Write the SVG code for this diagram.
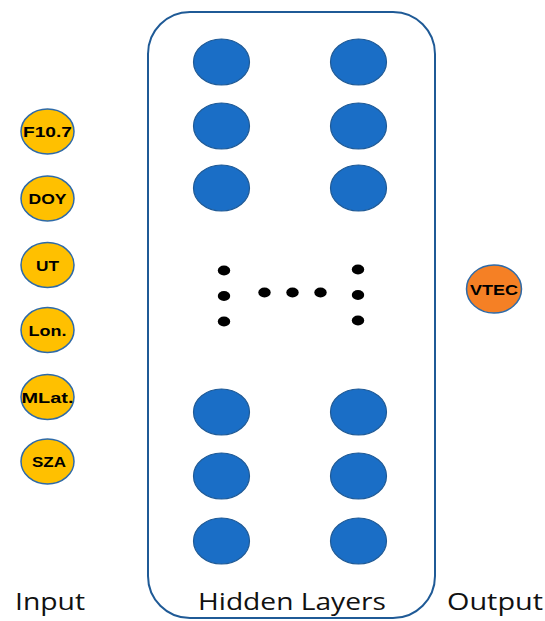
<svg xmlns="http://www.w3.org/2000/svg" width="545" height="621" viewBox="0 0 545 621">
<style>
.in{fill:#FFC000;stroke:#2E6AA8;stroke-width:1.5}
.out{fill:#F58025;stroke:#2E6AA8;stroke-width:1.5}
.hid{fill:#1A6EC6;stroke:#1F5A96;stroke-width:1.2}
.dot{fill:#000}
.nl{font-family:"Liberation Sans",Arial,sans-serif;font-weight:bold;font-size:15.5px;fill:#000;text-anchor:middle}
.lbl{font-family:"Open Sans","Liberation Sans",sans-serif;font-size:24px;fill:#111}
</style>
<rect x="148" y="12" width="287" height="606" rx="42" ry="42" fill="#fff" stroke="#1F5A96" stroke-width="2"/>
<g id="input-nodes">
<g id="n-f107"><ellipse class="in" cx="47.5" cy="131.5" rx="26.5" ry="22.5"/><text class="nl" x="47.5" y="137" textLength="49" lengthAdjust="spacingAndGlyphs">F10.7</text></g>
<g id="n-doy"><ellipse class="in" cx="47.5" cy="198.5" rx="26.5" ry="22.5"/><text class="nl" x="47.5" y="204" textLength="38" lengthAdjust="spacingAndGlyphs">DOY</text></g>
<g id="n-ut"><ellipse class="in" cx="47.5" cy="265" rx="26.5" ry="22.5"/><text class="nl" x="47.5" y="270.5" textLength="23" lengthAdjust="spacingAndGlyphs">UT</text></g>
<g id="n-lon"><ellipse class="in" cx="47.5" cy="330" rx="26.5" ry="22.5"/><text class="nl" x="47.5" y="335.5" textLength="38" lengthAdjust="spacingAndGlyphs">Lon.</text></g>
<g id="n-mlat"><ellipse class="in" cx="47.5" cy="397" rx="26.5" ry="22.5"/><text class="nl" x="47.5" y="402.5" textLength="52" lengthAdjust="spacingAndGlyphs">MLat.</text></g>
<g id="n-sza"><ellipse class="in" cx="47.5" cy="461.5" rx="26.5" ry="22.5"/><text class="nl" x="49" y="467" textLength="34" lengthAdjust="spacingAndGlyphs">SZA</text></g>
</g>
<g id="hidden-nodes">
<g id="h1"><ellipse class="hid" cx="221.5" cy="62" rx="28" ry="23"/></g>
<g id="h2"><ellipse class="hid" cx="221.5" cy="126" rx="28" ry="23"/></g>
<g id="h3"><ellipse class="hid" cx="221.5" cy="188" rx="28" ry="23"/></g>
<g id="h4"><ellipse class="hid" cx="221.5" cy="412" rx="28" ry="23"/></g>
<g id="h5"><ellipse class="hid" cx="221.5" cy="476" rx="28" ry="23"/></g>
<g id="h6"><ellipse class="hid" cx="221.5" cy="541" rx="28" ry="23"/></g>
<g id="h7"><ellipse class="hid" cx="358.5" cy="62" rx="28" ry="23"/></g>
<g id="h8"><ellipse class="hid" cx="358.5" cy="126" rx="28" ry="23"/></g>
<g id="h9"><ellipse class="hid" cx="358.5" cy="188" rx="28" ry="23"/></g>
<g id="h10"><ellipse class="hid" cx="358.5" cy="412" rx="28" ry="23"/></g>
<g id="h11"><ellipse class="hid" cx="358.5" cy="476" rx="28" ry="23"/></g>
<g id="h12"><ellipse class="hid" cx="358.5" cy="541" rx="28" ry="23"/></g>
</g>
<g id="ellipsis">
<ellipse class="dot" cx="224" cy="270.5" rx="6.2" ry="5"/>
<ellipse class="dot" cx="224" cy="296" rx="6.2" ry="5"/>
<ellipse class="dot" cx="224" cy="321.5" rx="6.2" ry="5"/>
<ellipse class="dot" cx="264.5" cy="292.5" rx="6.2" ry="5"/>
<ellipse class="dot" cx="292.5" cy="292.5" rx="6.2" ry="5"/>
<ellipse class="dot" cx="320.5" cy="292.5" rx="6.2" ry="5"/>
<ellipse class="dot" cx="358" cy="269.5" rx="6.2" ry="5"/>
<ellipse class="dot" cx="358" cy="295" rx="6.2" ry="5"/>
<ellipse class="dot" cx="358" cy="320.5" rx="6.2" ry="5"/>
</g>
<g id="output-node"><ellipse class="out" cx="494" cy="289" rx="27.5" ry="24"/><text class="nl" x="494" y="294.5" textLength="48" lengthAdjust="spacingAndGlyphs">VTEC</text></g>
<g id="connectors"></g>
<g id="labels">
<text class="lbl" x="15" y="610" textLength="70" lengthAdjust="spacingAndGlyphs">Input</text>
<text class="lbl" x="198" y="610" textLength="188" lengthAdjust="spacingAndGlyphs">Hidden Layers</text>
<text class="lbl" x="447" y="610" textLength="96" lengthAdjust="spacingAndGlyphs">Output</text>
</g>
</svg>
